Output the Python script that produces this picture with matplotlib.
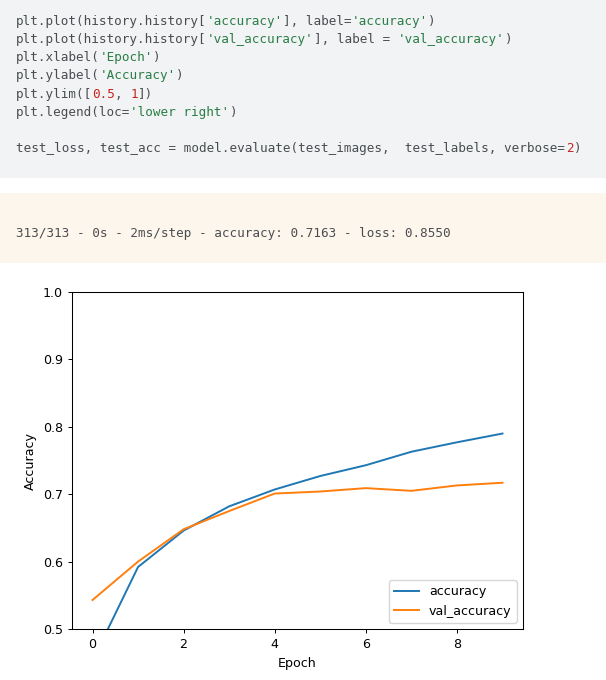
import matplotlib
matplotlib.use("Agg")
import matplotlib.pyplot as plt
from matplotlib.patches import Rectangle

# values
epochs = list(range(10))
accuracy = [0.453, 0.592, 0.646, 0.682, 0.707, 0.727, 0.743, 0.763, 0.777, 0.790]
val_accuracy = [0.543, 0.600, 0.648, 0.675, 0.701, 0.704, 0.709, 0.705, 0.713, 0.717]

# code cell, each line is a list of (text, kind) pieces
code_lines = [
    [("plt.plot(history.history[", "c"), ("'accuracy'", "s"), ("], label=", "c"), ("'accuracy'", "s"), (")", "c")],
    [("plt.plot(history.history[", "c"), ("'val_accuracy'", "s"), ("], label = ", "c"), ("'val_accuracy'", "s"), (")", "c")],
    [("plt.xlabel(", "c"), ("'Epoch'", "s"), (")", "c")],
    [("plt.ylabel(", "c"), ("'Accuracy'", "s"), (")", "c")],
    [("plt.ylim([", "c"), ("0.5", "n"), (", ", "c"), ("1", "n"), ("])", "c")],
    [("plt.legend(loc=", "c"), ("'lower right'", "s"), (")", "c")],
    [],
    [("test_loss, test_acc = model.evaluate(test_images,  test_labels, verbose=", "c"), ("2", "n"), (")", "c")],
]
output_line = "313/313 - 0s - 2ms/step - accuracy: 0.7163 - loss: 0.8550"

W, H = 606, 680
fig = plt.figure(figsize=(W / 100, H / 100), dpi=100)

# cell backgrounds
fig.patches.append(Rectangle((0, 1 - 178 / H), 1, 178 / H, transform=fig.transFigure,
                             facecolor="#f1f3f4", edgecolor="none", zorder=0))
fig.patches.append(Rectangle((0, 1 - 263 / H), 1, 70 / H, transform=fig.transFigure,
                             facecolor="#fdf6ec", edgecolor="none", zorder=0))

colors = {"c": "#4a4d50", "s": "#2a7d46", "n": "#c5221f"}
char_w = 7.64
x0 = 15.7
y0 = 21.7
step = 18.1
for i, line in enumerate(code_lines):
    col = 0
    y = 1 - (y0 + i * step) / H
    for txt, kind in line:
        fig.text((x0 + col * char_w) / W, y, txt, family="DejaVu Sans Mono", fontsize=9.1,
                 color=colors[kind], va="center", ha="left")
        col += len(txt)

fig.text(x0 / W, 1 - 233 / H, output_line, family="DejaVu Sans Mono", fontsize=9.1,
         color="#4a4d50", va="center", ha="left")

# the plot itself
ax = fig.add_axes([72 / W, 1 - 629 / H, (523 - 72) / W, (629 - 292) / H])
ax.plot(epochs, accuracy, label="accuracy", lw=1.4)
ax.plot(epochs, val_accuracy, label="val_accuracy", lw=1.4)
ax.set_xlabel("Epoch", fontsize=9.1)
ax.set_ylabel("Accuracy", fontsize=9.1)
ax.set_ylim([0.5, 1])
ax.tick_params(labelsize=9.1, width=0.7, length=3.2)
for s in ax.spines.values():
    s.set_linewidth(0.75)
ax.legend(loc="lower right", fontsize=9.1)

fig.savefig("out.png", dpi=100)
